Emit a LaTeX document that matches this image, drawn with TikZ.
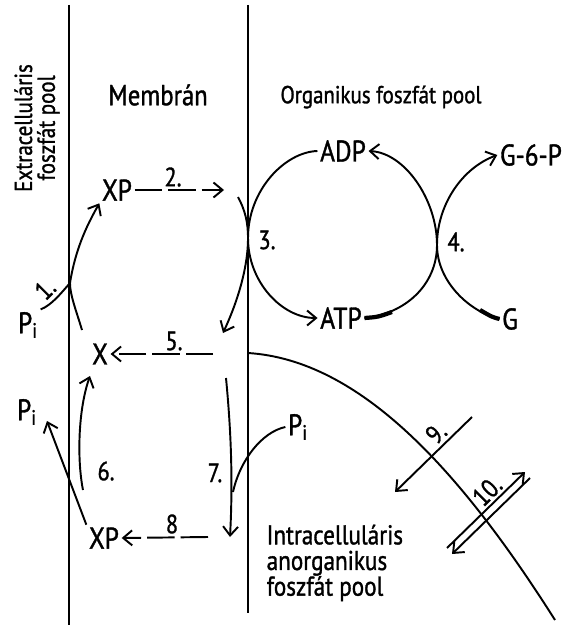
\documentclass[tikz,border=0pt]{standalone}
\usepackage{fontspec}
\setmainfont{PT Sans}[FakeStretch=0.85, FakeBold=1.2]
\usetikzlibrary{arrows.meta}

\begin{document}
\begin{tikzpicture}[x=0.02cm, y=-0.02cm, line width=1.1pt,
	>={Straight Barb[length=1.8mm,width=3mm]},
	lbl/.style={font=\fontsize{14}{13}\selectfont, inner sep=1pt},
	spec/.style={font=\fontsize{17}{17}\selectfont, inner sep=1pt},
	num/.style={font=\fontsize{15}{15}\selectfont, inner sep=1pt},
	broken/.style={dash pattern=on 5.5mm off 1.2mm}]
	\useasboundingbox (0,0) rectangle (567,625);
	% membranes
	\coordinate (m1t) at (69,5);
	\coordinate (m1b) at (69,625);
	\coordinate (m2t) at (248,5);
	\coordinate (m2b) at (248,613);
	\draw (m1t) -- (m1b);
	\draw (m2t) -- (m2b);

	% titles
	\node[lbl, rotate=90, align=center] (extra) at (37,128) {Extracelluláris\\foszfát pool};
	\node[lbl, font=\fontsize{16.5}{16}\selectfont] (memb) at (158,95) {Membrán};
	\node[lbl] (org) at (381,97) {Organikus foszfát pool};
	\node[lbl, font=\fontsize{15.5}{14.6}\selectfont, align=left, anchor=north west] (intra) at (264,522) {Intracelluláris\\anorganikus\\foszfát pool};

	% species
	\node[spec] (xp1) at (117,190) {XP};
	\node[spec] (x) at (100,354) {X};
	\node[spec] (xp2) at (104,538) {XP};
	\node[spec] (pi1) at (28,325) {P\textsubscript{i}};
	\node[spec] (pi2) at (27,412) {P\textsubscript{i}};
	\node[spec] (pi3) at (298,427) {P\textsubscript{i}};
	\node[spec] (adp) at (343,151) {ADP};
	\node[spec] (atp) at (341,318) {ATP};
	\node[spec] (g6p) at (531,155) {G-6-P};
	\node[spec] (g) at (510,319) {G};

	% reaction numbers
	\node[num, rotate=45] (n1) at (45,289) {1.};
	\node[num] (n2) at (173,177) {2.};
	\node[num] (n3) at (267,240) {3.};
	\node[num] (n4) at (456,242) {4.};
	\node[num] (n5) at (174,341) {5.};
	\node[num] (n6) at (106,471) {6.};
	\node[num] (n7) at (215,473) {7.};
	\node[num] (n8) at (172,524) {8};
	\node[num, rotate=45] (n9) at (436,433) {9.};
	\node[num, rotate=45] (n10) at (487,491) {10.};

	% touching points and free ends
	\coordinate (t1) at (70,283);
	\coordinate (t3) at (248,238);
	\coordinate (t4) at (437,245);
	\coordinate (e2) at (224,190);
	\coordinate (c1) at (82,330);
	\coordinate (c3a) at (238,197);
	\coordinate (c3b) at (223,333);
	\coordinate (e5) at (213,354);
	\coordinate (p6) at (47,421);
	\coordinate (b6) at (83,490);
	\coordinate (x6) at (90,376);
	\coordinate (s7) at (226,378);
	\coordinate (e7) at (230,537);
	\coordinate (j7) at (233,492);
	\coordinate (e8) at (208,537);
	\coordinate (b0) at (248,353);
	\coordinate (b1) at (555,620);

	% 1. and 2.
	\draw (pi1.north east) .. controls (52,305) and (62,292) .. (t1);
	\draw[->] (c1) .. controls (76,310) and (70,295) .. (t1) .. controls (76,245) and (90,220) .. (xp1.south west);
	\draw[->, broken] (xp1.east) -- (e2);

	% 3. and 4.
	\draw[->] (c3a) .. controls (245,210) and (248,222) .. (t3) .. controls (248,270) and (236,305) .. (c3b);
	\draw[->] (adp.west) .. controls (285,152) and (248,190) .. (t3) .. controls (248,282) and (282,318) .. (atp.west);
	\draw[->] (atp.east) .. controls (405,314) and (437,285) .. (t4) .. controls (437,200) and (405,153) .. (adp.east);
	\draw[->] (g.west) .. controls (470,312) and (437,282) .. (t4) .. controls (437,205) and (462,168) .. (g6p.west);
	\draw[line width=2.4pt] (atp.east) .. controls (378,317) .. (392,312);
	\draw[line width=2.4pt] (g.west) .. controls (492,317) .. (480,310);

	% 5. to 8.
	\draw[->, broken] (e5) -- (x.east);
	\draw[->] (xp2.north west) -- (p6);
	\draw[->] (b6) .. controls (77,460) and (78,410) .. (x6);
	\draw[->] (s7) .. controls (231,430) and (233,480) .. (e7);
	\draw (pi3.west) .. controls (262,432) and (240,460) .. (j7);
	\draw[->, broken] (e8) -- (xp2.east);

	% 9. and 10.
	\draw (b0) .. controls (360,360) and (460,470) .. (b1);
	\draw[->] (472,417) -- (395,492);
	\draw[->] (447,548) -- (525,472);
	\draw[->] (530,478) -- (452,554);
\end{tikzpicture}
\end{document}
